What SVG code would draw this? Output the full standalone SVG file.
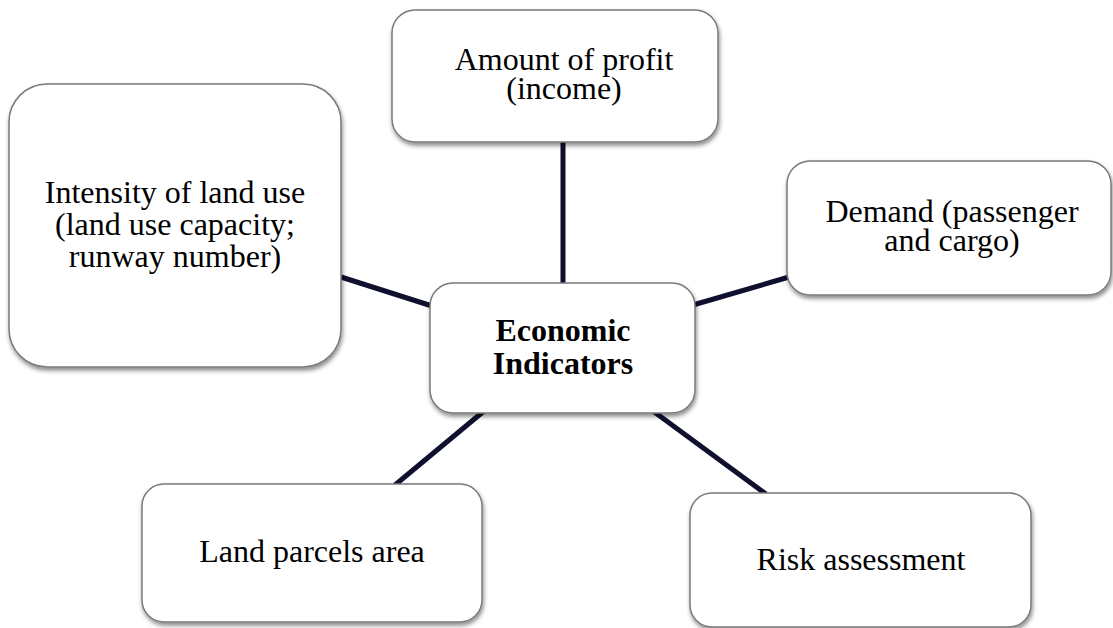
<svg xmlns="http://www.w3.org/2000/svg" width="1113" height="628" viewBox="0 0 1113 628">
  <defs>
    <filter id="sh" x="-10%" y="-10%" width="120%" height="130%">
      <feDropShadow dx="1" dy="3" stdDeviation="2" flood-color="#000" flood-opacity="0.45"/>
    </filter>
  </defs>
  <style>
    .box { fill: #ffffff; stroke: #7a7a7a; stroke-width: 1.5; filter: url(#sh); }
    .t { font-family: "Liberation Serif", "Times New Roman", serif; font-size: 32px; fill: #000; text-anchor: middle; }
    .b { font-weight: bold; }
    .c { stroke: #0f0f2e; stroke-width: 5; fill: none; }
  </style>
  <rect width="1113" height="628" fill="#ffffff"/>
  <g id="connectors">
    <line class="c" x1="341" y1="277" x2="432" y2="306"/>
    <line class="c" x1="563" y1="142" x2="563" y2="285"/>
    <line class="c" x1="789" y1="277" x2="693" y2="305"/>
    <line class="c" x1="484" y1="411" x2="395" y2="485"/>
    <line class="c" x1="653" y1="411" x2="766" y2="494"/>
  </g>
  <g id="node-amount">
    <rect class="box" x="392" y="10" width="326" height="132" rx="23" ry="23"/>
    <text class="t" x="564" y="70">Amount of profit</text>
    <text class="t" x="564" y="99">(income)</text>
  </g>
  <g id="node-intensity">
    <rect class="box" x="9" y="84" width="332" height="283" rx="38" ry="38"/>
    <text class="t" x="175" y="203">Intensity of land use</text>
    <text class="t" x="175" y="235">(land use capacity;</text>
    <text class="t" x="175" y="267">runway number)</text>
  </g>
  <g id="node-demand">
    <rect class="box" x="787" y="161" width="324" height="134" rx="23" ry="23"/>
    <text class="t" x="952" y="222">Demand (passenger</text>
    <text class="t" x="952" y="251">and cargo)</text>
  </g>
  <g id="node-center">
    <rect class="box" x="430" y="283" width="265" height="130" rx="23" ry="23"/>
    <text class="t b" x="563" y="341">Economic</text>
    <text class="t b" x="563" y="374">Indicators</text>
  </g>
  <g id="node-land">
    <rect class="box" x="142" y="484" width="340" height="138" rx="22" ry="22"/>
    <text class="t" x="312" y="562">Land parcels area</text>
  </g>
  <g id="node-risk">
    <rect class="box" x="690" y="493" width="341" height="134" rx="22" ry="22"/>
    <text class="t" x="861" y="570">Risk assessment</text>
  </g>
</svg>
